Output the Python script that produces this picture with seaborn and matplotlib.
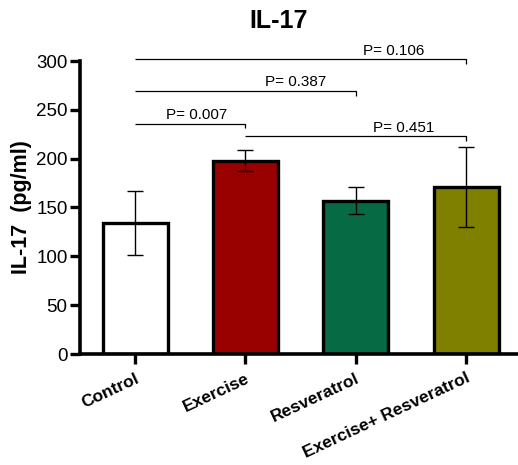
import numpy as np
import pandas as pd
import matplotlib
matplotlib.use("Agg")
import matplotlib.pyplot as plt
import seaborn as sns

# ---- data ----
groups = ["Control", "Exercise", "Resveratrol", "Exercise+ Resveratrol"]
means = [134, 198, 157, 171]
errors = [33, 11, 14, 41]
bar_colors = ["#FFFFFF", "#990000", "#066B45", "#808000"]

# significance brackets: (left group index, right group index)
pairs = [(0, 3), (0, 2), (0, 1), (1, 3)]
bracket_y = [302, 269.5, 236, 223]
p_labels = ["P= 0.106", "P= 0.387", "P= 0.007", "P= 0.451"]
label_x = [2.34, 1.45, 0.56, 2.43]

yticks = [0, 50, 100, 150, 200, 250, 300]

sns.set_style("ticks")
plt.rcParams["font.family"] = ["Liberation Sans", "DejaVu Sans"]
for key in ["text.color", "axes.labelcolor", "xtick.color", "ytick.color",
            "axes.edgecolor"]:
    plt.rcParams[key] = "black"

fig = plt.figure(figsize=(5.18, 4.65), dpi=100)
ax = fig.add_axes([80 / 518, 111 / 465, 438 / 518, 293 / 465])

df = pd.DataFrame({"group": groups, "value": means})
sns.barplot(data=df, x="group", y="value", hue="group", palette=bar_colors,
            order=groups, hue_order=groups, legend=False, errorbar=None,
            width=0.59, edgecolor="black", linewidth=2.4, saturation=1, ax=ax)

ax.errorbar(np.arange(len(groups)), means, yerr=errors, fmt="none",
            ecolor="black", elinewidth=1.0, capsize=6, capthick=1.0, zorder=5)

ax.set_xlim(-0.5, 3.47)
ax.set_ylim(0, 300)
ax.set_yticks(yticks)
ax.set_yticklabels([str(t) for t in yticks], fontsize=13.5)
ax.set_xticks(np.arange(len(groups)))
ax.set_xticklabels(groups, fontsize=12.5, fontweight="bold", rotation=25,
                   ha="right", va="top", rotation_mode="anchor")
ax.tick_params(axis="both", width=2.4, length=7, direction="out", pad=2)
ax.tick_params(axis="x", pad=5)

for side in ["left", "bottom"]:
    ax.spines[side].set_linewidth(2.6)
sns.despine(ax=ax)

ax.set_xlabel("")
ax.set_ylabel("IL-17  (pg/ml)", fontsize=15.5, fontweight="bold", labelpad=3)

drop = 5
for (a, b), y, lab, lx in zip(pairs, bracket_y, p_labels, label_x):
    ax.plot([a, b, b], [y, y, y - drop], color="black", lw=0.9, clip_on=False,
            solid_capstyle="butt")
    ax.text(lx, y + 1.5, lab, ha="center", va="bottom", fontsize=11,
            clip_on=False)

fig.text(279 / 518, 1 - 21 / 465, "IL-17", ha="center", va="center",
         fontsize=18, fontweight="bold")

fig.savefig("out.png", dpi=100)
